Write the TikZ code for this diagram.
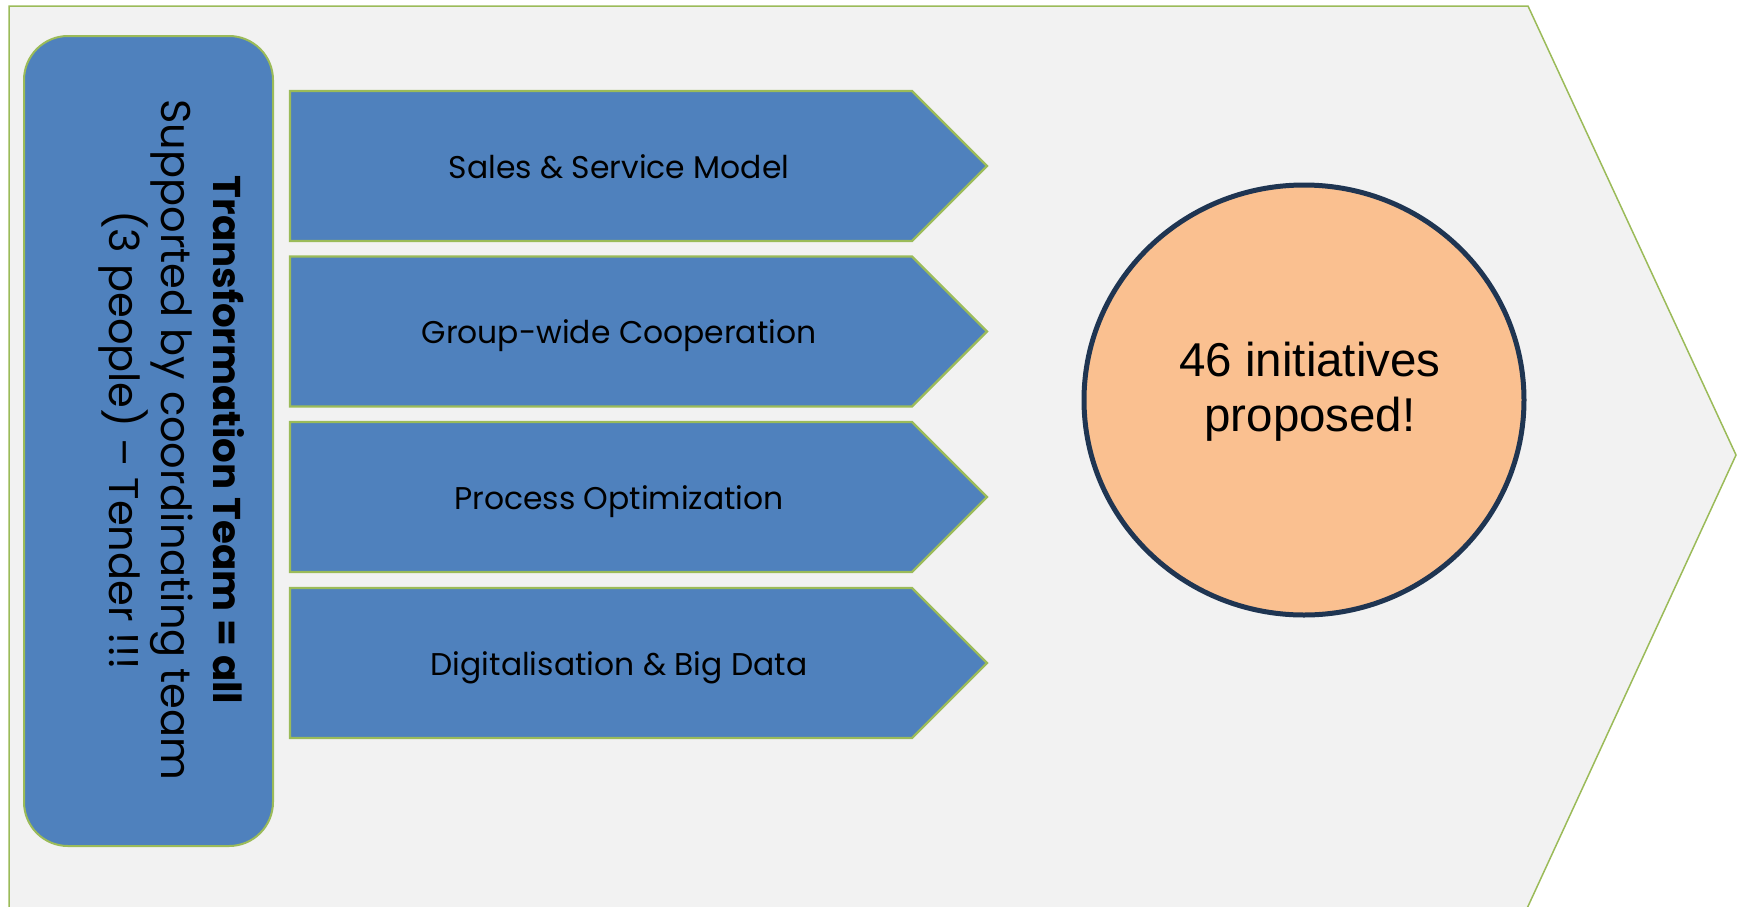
\documentclass[tikz,border=0pt]{standalone}
\usepackage{fontspec}
\setmainfont{Poppins}
\newfontfamily\arialfont{Liberation Sans}
\usetikzlibrary{shapes.geometric}
\definecolor{panelgray}{HTML}{F2F2F2}
\definecolor{leafgreen}{HTML}{9BBB59}
\definecolor{steelblue}{HTML}{4F81BD}
\definecolor{peach}{HTML}{FAC090}
\definecolor{navy}{HTML}{1F3552}
\tikzset{
  panel/.style={fill=panelgray, draw=leafgreen, line width=1.5pt},
  teambox/.style={fill=steelblue, draw=leafgreen, line width=2pt, rounded corners=44pt},
  chevron/.style={fill=steelblue, draw=leafgreen, line width=2.2pt, line join=miter},
  chevtext/.style={font=\fontsize{31.4}{36}\selectfont, text=black, inner sep=0pt, anchor=base},
  resultshape/.style={ellipse, fill=peach, draw=navy, line width=5pt, minimum width=440pt, minimum height=430pt, inner sep=0pt},
  resulttext/.style={font=\arialfont\fontsize{47.5}{55}\selectfont, align=center, text=black, inner sep=0pt}
}
\begin{document}
\begin{tikzpicture}[x=1pt,y=-1pt]
\useasboundingbox (0,0) rectangle (1741,906);
\clip (0,0) rectangle (1741,906);
% outer pentagon
\path[panel] (9,915) -- (9,6) -- (1528,6) -- (1736,455) -- (1524,915);
% team box
\path[teambox] (24,36) rectangle (273,846);
\node[rotate=-90, align=center, inner sep=0pt, font=\fontsize{41.5}{52}\selectfont] (team) at (172,440)
  {{\fontsize{38.7}{52}\selectfont\textbf{Transformation Team = all}}\\Supported by coordinating team\\(3 people) – Tender !!!};
% chevrons
\foreach \i/\t/\lab in {0/91/Sales \& Service Model, 1/256.5/Group-wide Cooperation, 2/422/Process Optimization, 3/588/Digitalisation \& Big Data}{
  \path[chevron] (290,\t) -- (912,\t) -- (987,\t+75) -- (912,\t+150) -- (290,\t+150) -- cycle;
  \node[chevtext] (chev\i) at (619,\t+87) {\lab};
}
% result
\node[resultshape] (result) at (1304,400) {};
\node[resulttext] (resultlabel) at (1310,392) {46 initiatives\\proposed!};
\end{tikzpicture}
\end{document}
